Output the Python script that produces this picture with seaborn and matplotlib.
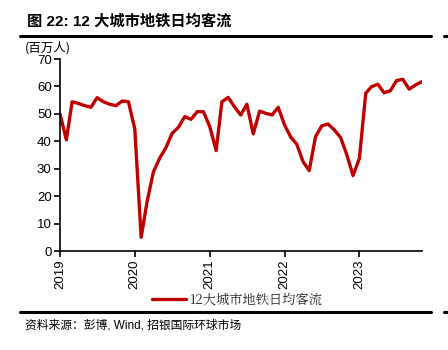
import matplotlib
matplotlib.use("Agg")
import matplotlib.pyplot as plt
import seaborn as sns
import pandas as pd
from matplotlib.lines import Line2D

months = pd.date_range("2019-01-01", "2023-11-01", freq="MS")
ridership = [
    50.0, 40.5, 54.4, 53.8, 53.0, 52.4, 55.9, 54.4, 53.5, 53.0, 54.7, 54.4,
    44.5, 5.0, 18.0, 28.9, 33.8, 37.7, 42.9, 45.1, 49.0, 48.0, 50.8, 50.8,
    45.3, 36.6, 54.4, 56.0, 52.6, 49.6, 53.5, 42.7, 51.0, 50.2, 49.6, 52.4,
    45.9, 41.4, 39.0, 32.6, 29.3, 41.7, 45.6, 46.3, 44.1, 41.4, 35.0, 27.5,
    33.8, 57.5, 59.9, 60.8, 57.7, 58.4, 62.1, 62.6, 59.0, 60.5, 61.7,
]
series_name = "12大城市地铁日均客流"
title = "图 22: 12 大城市地铁日均客流"
unit = "(百万人)"
source = "资料来源：彭博, Wind, 招银国际环球市场"
year_ticks = ["2019", "2020", "2021", "2022", "2023"]
y_ticks = [0, 10, 20, 30, 40, 50, 60, 70]

df = pd.DataFrame({"date": months, "value": ridership})

sns.set_theme(style="white")
plt.rcParams["font.family"] = ["Liberation Sans", "Noto Sans CJK SC", "DejaVu Sans"]

RED = "#C00000"
fig = plt.figure(figsize=(4.48, 3.5), dpi=100)
ax = fig.add_axes([60 / 448, 1 - 251 / 350, (421.7 - 60) / 448, (251 - 59) / 350])

sns.lineplot(data=df, x="date", y="value", ax=ax, color=RED, linewidth=2.4, legend=False)

ax.set_xlim(pd.Timestamp("2019-01-01"), pd.Timestamp("2023-11-01"))
ax.set_ylim(0, 70)
ax.set_yticks(y_ticks)
ax.set_xticks([pd.Timestamp(f"{y}-01-01") for y in year_ticks])
ax.set_xticklabels(year_ticks, rotation=90)
ax.set_xlabel("")
ax.set_ylabel("")
for s in ["top", "right"]:
    ax.spines[s].set_visible(False)
for s in ["left", "bottom"]:
    ax.spines[s].set_color("black")
    ax.spines[s].set_linewidth(1.2)
ax.tick_params(axis="both", which="major", direction="out", length=4, width=1.2,
               color="black", labelsize=9.5, labelcolor="black", pad=2, bottom=True, left=True)
for lab in ax.get_xticklabels() + ax.get_yticklabels():
    lab.set_family(["Liberation Sans", "DejaVu Sans"])

# Title and rules
fig.text(27 / 448, 1 - 21 / 350, title, fontsize=11, fontweight="bold",
         family=["Liberation Sans", "Noto Sans CJK SC"], va="center", ha="left", color="black")
fig.add_artist(Line2D([20 / 448, 431 / 448], [1 - 36 / 350] * 2, color="black", lw=2.2))
fig.add_artist(Line2D([444 / 448, 1.0], [1 - 36 / 350] * 2, color="black", lw=2.2))
fig.text(25 / 448, 1 - 48 / 350, unit, fontsize=9, family=["Noto Sans CJK SC"],
         va="center", ha="left", color="black")

# Legend
leg = fig.legend(handles=[Line2D([], [], color=RED, lw=2.4)], labels=[series_name],
                 loc="center", bbox_to_anchor=(237 / 448, 1 - 300 / 350), frameon=False,
                 handlelength=2.6, handletextpad=0.2,
                 prop={"family": ["Noto Serif CJK SC", "Noto Sans CJK SC"], "size": 9.5})

fig.add_artist(Line2D([20 / 448, 431 / 448], [1 - 312 / 350] * 2, color="black", lw=2.2))
fig.add_artist(Line2D([444 / 448, 1.0], [1 - 312 / 350] * 2, color="black", lw=2.2))
fig.text(25 / 448, 1 - 326 / 350, source, fontsize=8.5,
         family=["Liberation Sans", "Noto Sans CJK SC"], va="center", ha="left", color="black")

fig.savefig("out.png", dpi=100)
